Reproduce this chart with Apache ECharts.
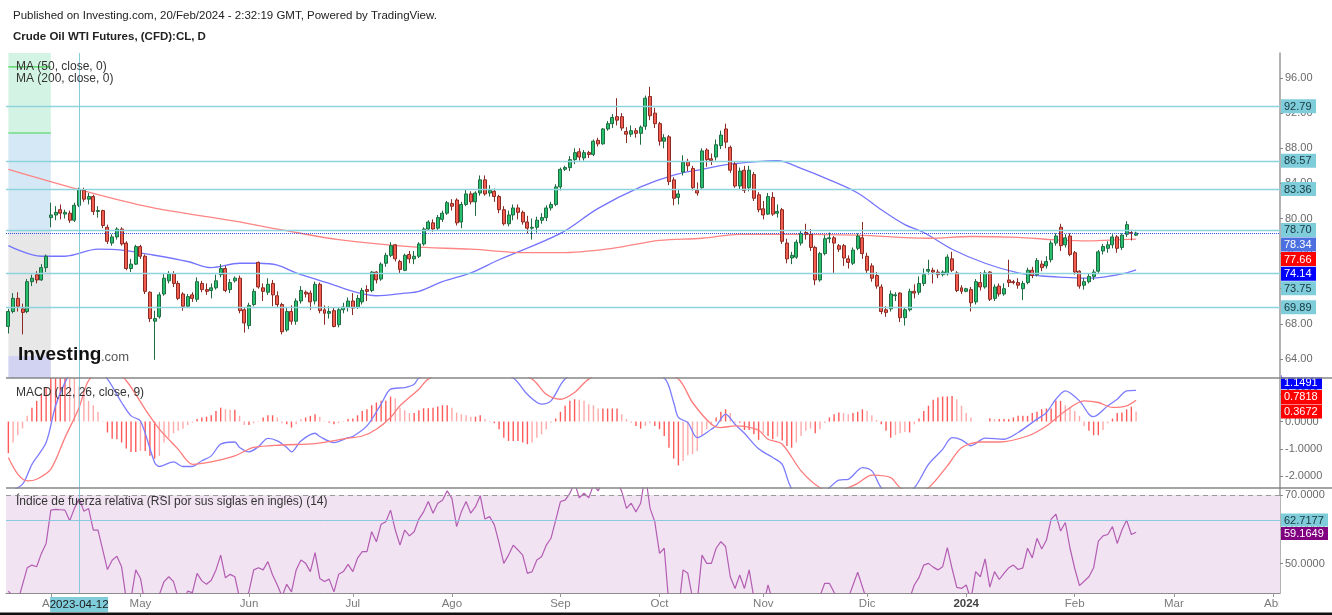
<!DOCTYPE html>
<html><head><meta charset="utf-8">
<script src="https://cdn.jsdelivr.net/npm/echarts@6/dist/echarts.min.js"></script>
<style>html,body{margin:0;padding:0;background:#fff;}#c{width:1332px;height:615px;}</style>
</head><body><div id="c"></div>
<script>
// ---------- categories ----------
const firstDay = [2023, 2, 21];      // 2023-03-21
const lastDay = [2024, 3, 2];        // 2024-04-02 (axis runs into the future)
const closedDays = ['2023-04-07'];
const monthNames = ['Ene','Feb','Mar','Abr','May','Jun','Jul','Ago','Sep','Oct','Nov','Dic'];
const crossDate = '2023-04-12';

// ---------- candles [open, close, low, high] ----------
const ohlc = [
[67.7,69.4,66.9,69.7],[69.4,70.9,69.2,71.5],[70.9,70.0,69.4,71.6],[69.7,69.3,66.8,70.3],[69.4,72.8,69.2,73.1],
[72.8,73.2,72.3,73.6],[73.6,73.0,72.6,74.0],[73.0,74.4,72.9,74.8],[74.4,75.7,73.9,75.9],[80.1,80.4,79.0,81.8],
[80.4,80.7,79.8,81.4],[81.0,80.6,79.9,81.6],[80.5,80.7,80.0,81.0],[80.6,79.8,79.5,80.9],[79.8,81.5,79.6,81.8],
[81.5,83.3,81.3,83.5],[83.2,82.2,81.9,83.5],[82.2,82.5,81.6,82.9],[82.5,80.8,80.4,82.7],[80.8,80.9,80.1,81.4],
[80.9,79.2,78.9,81.0],[79.0,77.4,77.1,79.3],[77.2,77.9,76.9,78.2],[77.9,78.8,77.6,79.0],[78.8,77.1,76.9,79.0],
[77.2,74.3,74.1,77.4],[74.3,74.8,73.9,75.4],[74.8,76.8,74.7,77.0],[76.8,75.7,75.4,77.0],[75.7,71.7,71.4,75.9],
[71.6,68.6,68.2,71.7],[68.3,68.6,63.9,69.5],[68.8,71.3,68.6,71.6],[71.4,73.2,71.2,73.7],[72.9,73.7,72.6,74.0],
[73.7,72.6,72.2,74.0],[72.6,70.9,70.7,72.9],[71.4,70.0,69.5,71.6],[70.0,71.1,69.8,71.4],[71.3,70.9,70.5,71.6],
[70.8,72.8,70.5,73.3],[72.6,71.9,71.6,72.9],[71.9,71.7,71.3,72.6],[71.8,72.1,70.9,72.6],[72.1,72.9,71.9,73.6],
[73.6,74.3,73.3,74.8],[74.3,71.8,71.6,74.6],[71.9,72.7,71.5,73.1],[72.9,73.2,72.7,73.4],[73.2,69.5,69.2,73.5],
[69.6,68.1,67.0,69.8],[67.8,70.1,67.4,70.4],[70.2,71.7,70.0,72.0],[75.0,72.2,72.0,75.1],[72.1,71.7,70.6,72.6],
[71.6,72.5,71.3,73.2],[72.6,71.3,70.0,73.0],[71.2,70.2,69.9,71.7],[70.2,67.1,66.8,70.4],[67.3,69.4,67.1,69.8],
[69.4,68.3,67.9,70.1],[68.3,70.6,67.9,70.9],[70.6,71.8,70.3,72.3],[71.6,71.4,71.0,71.8],[71.5,70.5,69.6,71.8],
[70.6,72.5,70.2,72.8],[72.5,69.5,69.2,72.7],[69.6,69.2,67.9,70.1],[69.2,69.4,68.6,70.0],[69.5,67.7,67.6,69.9],
[67.9,69.6,67.6,69.8],[69.6,69.9,69.2,70.4],[69.9,70.6,69.4,71.0],[70.6,69.8,69.0,71.5],[69.9,70.9,69.7,71.3],
[70.5,71.8,70.2,72.1],[71.9,71.7,70.6,72.4],[71.8,73.9,71.6,74.0],[73.9,73.0,72.6,74.0],[73.1,74.8,72.9,75.0],
[74.9,75.8,74.5,76.1],[75.8,76.9,75.6,77.3],[77.0,75.4,75.1,77.1],[75.1,74.2,73.7,75.3],[74.1,75.8,74.0,76.0],
[75.9,75.4,74.9,76.3],[75.4,75.7,74.8,76.3],[75.7,77.1,75.5,77.3],[77.1,78.8,76.9,79.0],[78.8,79.6,78.6,79.8],
[79.5,78.8,78.5,79.9],[78.9,80.1,78.6,80.4],[79.9,80.6,79.6,80.9],[80.6,81.8,80.4,82.0],[81.7,81.4,80.9,82.2],
[82.1,79.5,79.2,82.3],[79.6,81.6,78.9,81.9],[81.6,82.8,81.4,83.3],[82.8,81.9,81.6,83.1],[81.9,82.9,80.3,83.1],
[82.9,84.4,82.6,84.9],[84.4,82.8,82.6,84.9],[82.9,83.2,82.5,83.8],[83.1,82.5,81.9,83.4],[82.5,81.0,80.6,82.7],
[81.0,79.4,79.2,81.4],[79.4,80.4,79.1,80.9],[80.4,81.2,79.8,81.6],[81.2,80.7,79.9,81.6],[80.7,79.6,79.3,80.9],
[79.6,78.9,78.3,80.3],[78.9,79.0,77.6,80.0],[79.0,79.8,78.4,80.2],[79.8,80.1,79.4,80.6],[80.1,81.2,79.7,81.5],
[81.2,81.6,80.9,81.9],[81.6,83.6,81.4,83.9],[83.6,85.6,83.2,85.8],[85.6,85.8,85.4,86.0],[85.8,86.7,85.4,87.1],
[86.7,87.5,86.2,88.0],[87.6,87.0,86.6,88.0],[86.9,87.5,86.6,87.8],[87.5,87.3,86.9,87.7],[87.3,88.8,87.1,89.0],
[88.9,88.5,88.2,89.2],[88.5,90.2,88.4,90.3],[90.2,90.8,90.0,91.1],[90.8,91.5,90.3,91.9],[91.6,91.2,90.6,93.7],
[91.6,90.3,90.0,92.0],[89.9,89.6,88.6,90.4],[89.6,90.0,89.3,90.6],[90.0,89.7,89.2,90.3],[89.7,90.4,88.4,90.6],
[90.5,93.7,90.1,94.0],[93.9,91.7,91.2,95.0],[92.0,90.8,90.3,92.6],[90.8,88.8,88.3,91.0],[88.8,89.2,88.0,89.6],
[89.3,84.2,83.8,89.5],[84.4,82.3,81.5,84.7],[82.4,82.8,81.6,83.3],[85.3,86.4,84.9,87.2],[86.5,86.0,85.4,86.8],
[85.7,83.5,83.2,86.0],[83.2,82.9,82.6,84.1],[83.5,87.7,83.4,88.0],[87.8,86.7,85.9,88.0],[86.8,86.6,86.1,87.4],
[87.0,88.4,86.6,89.0],[88.3,89.5,87.9,90.0],[90.2,88.7,88.0,90.8],[88.1,85.5,85.2,88.3],[86.2,83.7,83.5,86.5],
[83.7,85.4,83.3,85.8],[85.5,83.2,82.9,86.0],[83.5,85.5,83.1,86.0],[85.0,82.3,82.0,85.3],[82.7,81.0,80.7,83.0],
[81.1,80.4,79.9,82.0],[80.5,82.5,80.4,82.9],[82.4,80.5,80.3,83.0],[80.6,80.8,80.1,81.6],[81.0,77.4,77.1,81.2],
[77.2,75.4,74.9,77.7],[75.5,75.8,74.8,76.2],[75.6,77.3,75.4,77.6],[77.2,78.3,76.9,78.6],[78.4,78.2,77.6,79.4],
[78.2,76.7,76.3,78.8],[76.7,73.0,72.4,76.9],[73.0,76.0,72.8,76.2],[76.0,77.7,75.8,78.1],[77.7,77.8,77.2,78.4],
[77.8,77.2,73.8,78.0],[76.9,76.5,76.2,77.1],[76.9,75.5,74.6,77.1],[75.4,75.0,74.3,75.8],[74.9,76.4,74.7,76.7],
[76.6,78.0,76.4,78.3],[77.8,76.0,75.4,79.6],[75.7,74.1,73.8,76.1],[74.6,73.2,72.8,74.9],[73.5,72.3,72.0,73.9],
[72.2,69.4,69.1,72.5],[69.6,69.3,68.8,70.0],[69.7,71.4,69.4,71.8],[71.2,71.3,70.6,71.6],[71.5,68.7,68.2,71.6],
[68.7,69.6,67.8,69.8],[69.6,71.7,69.4,72.0],[71.7,71.5,70.9,72.5],[71.6,72.6,71.3,73.4],[72.6,73.6,72.3,74.3],
[74.0,74.2,73.6,75.3],[74.1,73.9,72.6,74.4],[73.9,73.6,73.2,74.2],[73.6,73.9,73.4,74.1],[73.7,75.6,73.5,75.9],
[75.4,74.1,73.9,76.2],[73.8,71.8,71.6,74.0],[72.1,71.7,71.4,72.4],[71.7,72.0,71.6,72.1],[71.9,70.4,69.4,72.2],
[70.5,72.8,70.2,73.1],[72.7,72.2,71.8,73.9],[72.2,73.8,72.0,74.1],[73.9,70.8,70.6,74.0],[70.9,72.2,70.6,72.5],
[72.3,71.4,71.1,72.6],[71.4,72.0,71.2,72.6],[73.0,72.7,72.2,75.3],[72.8,72.7,72.5,73.0],[72.7,72.4,72.0,73.2],
[72.0,72.6,70.7,72.9],[72.7,74.1,72.5,74.4],[74.1,73.5,73.2,74.5],[73.6,75.2,73.4,75.5],[74.8,74.4,74.0,75.2],
[74.6,75.1,74.3,75.7],[75.3,77.2,75.0,77.5],[77.2,78.0,76.9,78.3],[79.0,76.9,76.3,79.4],[77.0,77.8,76.7,78.2],
[78.0,75.9,75.7,78.3],[76.1,73.9,73.6,76.3],[74.0,72.3,72.0,74.1],[72.4,72.8,71.9,73.2],[72.8,73.4,72.6,73.7],
[73.4,73.9,73.0,74.2],[74.0,76.2,73.8,76.4],[76.3,76.8,75.9,77.1],[76.6,77.0,76.1,77.4],[77.0,77.9,76.6,78.2],
[77.9,76.6,76.1,78.1],[76.7,78.1,76.4,78.3],[78.2,79.3,77.9,79.7],[78.4,78.3,77.5,78.7],[78.1,78.34,78.0,78.5]
];

// ---------- moving averages, read as [barIndex, value] ----------
const ma50Pts = [[0,76.9],[7,75.7],[12,75.7],[19,76.5],[24,76.4],[30,75.9],[38,75.1],[43,74.4],[49,74.9],[53,74.9],[57,74.7],[61,73.8],[68,72.6],[74,71.55],[78,71.2],[84,71.5],[87,71.7],[92,72.8],[98,73.8],[104,75.3],[117,78.3],[125,81.15],[134,83.6],[141,84.95],[147,85.6],[153,86.2],[163,86.6],[168,85.7],[174,84.4],[180,82.9],[185,81.0],[190,79.3],[194,78.4],[200,76.5],[207,74.9],[214,73.8],[219,73.45],[224,73.3],[229,73.2],[233,73.4],[237,73.8],[239,74.14]];
const ma200Pts = [[0,85.6],[15,83.3],[30,81.3],[48,79.7],[58,78.7],[70,77.6],[85,76.8],[98,76.5],[110,76.1],[117,76.1],[128,76.6],[138,77.5],[147,77.75],[155,78.2],[166,78.2],[180,78.1],[195,77.75],[204,77.95],[214,77.85],[221,77.6],[229,77.45],[236,77.6],[239,77.66]];

// ---------- MACD (12,26,9) ----------
const macdPts = [[0,-2.6],[3,-2.3],[5,-1.57],[8,-0.77],[10,0.58],[12,1.43],[14,2.0],[17,2.25],[21,1.56],[24,0.70],[26,0.21],[28,0.02],[31,-1.50],[32,-1.65],[35,-1.48],[37,-1.65],[39,-1.65],[41,-1.44],[43,-1.26],[45,-0.83],[48,-0.75],[49,-0.95],[51,-1.11],[53,-0.92],[55,-0.62],[57,-0.71],[59,-0.95],[60,-1.11],[62,-0.71],[65,-0.43],[66,-0.55],[69,-0.77],[72,-0.59],[73,-0.55],[76,-0.16],[79,0.64],[81,1.19],[84,1.25],[86,1.37],[87,1.6],[97,2.4],[107,1.6],[110,1.0],[113,0.64],[115,0.76],[118,1.56],[128,2.7],[139,1.6],[141,0.70],[142,0.15],[144,-0.04],[146,-0.59],[149,-0.28],[150,-0.16],[152,0.27],[154,-0.10],[156,-0.43],[159,-1.0],[162,-1.32],[164,-1.57],[166,-2.46],[170,-3.0],[174,-2.43],[176,-2.15],[178,-2.12],[181,-1.69],[183,-1.81],[185,-2.43],[188,-2.9],[192,-2.43],[195,-1.57],[198,-1.02],[200,-0.59],[202,-0.67],[204,-0.89],[207,-0.61],[211,-0.65],[214,-0.40],[218,0.09],[220,0.33],[222,0.82],[224,1.13],[227,0.76],[229,0.27],[230,0.18],[233,0.58],[235,0.82],[237,1.13],[239,1.1491]];
const signalPts = [[0,-1.32],[2,-1.93],[4,-2.18],[6,-2.12],[9,-1.75],[12,-0.59],[15,0.52],[17,1.50],[21,2.1],[25,1.50],[29,0.45],[32,-0.28],[36,-1.02],[39,-1.57],[43,-1.48],[48,-1.26],[52,-0.95],[58,-0.86],[65,-0.81],[72,-0.61],[75,-0.53],[78,-0.28],[81,0.15],[83,0.58],[87,1.19],[89,1.56],[100,2.4],[111,1.56],[114,1.0],[117,0.82],[120,1.07],[123,1.56],[133,2.4],[142,1.56],[145,0.70],[149,-0.10],[151,-0.22],[154,-0.16],[156,-0.18],[159,-0.32],[161,-0.65],[164,-0.83],[168,-1.81],[172,-2.43],[175,-2.6],[178,-2.43],[180,-2.27],[183,-1.97],[187,-2.06],[189,-2.43],[192,-2.6],[195,-2.43],[199,-1.63],[202,-0.96],[206,-0.75],[210,-0.75],[216,-0.53],[220,-0.16],[224,0.39],[228,0.76],[231,0.70],[234,0.52],[237,0.58],[239,0.7818]];
const histVals = [
-1.16,-0.77,-0.5,-0.25,0.21,0.51,0.76,1.0,1.25,1.6,1.8,1.9,1.9,1.8,1.65,1.31,1.07,0.76,0.60,0.36,
0.02,-0.40,-0.63,-0.65,-0.77,-0.99,-1.12,-1.12,-1.08,-1.08,-1.26,-1.36,-1.26,-0.77,-0.59,-0.43,-0.34,-0.26,-0.13,-0.04,
0.09,0.15,0.18,0.23,0.39,0.51,0.45,0.43,0.43,0.21,-0.13,-0.13,-0.06,0.02,0.15,0.23,0.23,0.15,-0.06,-0.10,
-0.22,-0.10,0.09,0.15,0.21,0.27,0.18,0.02,-0.04,-0.10,-0.06,0.02,0.09,0.11,0.23,0.39,0.45,0.60,0.70,
0.76,0.76,0.92,0.85,0.51,0.42,0.31,0.31,0.42,0.49,0.49,0.51,0.55,0.60,0.60,0.51,0.33,0.27,0.23,0.18,
0.18,0.23,0.09,0.02,-0.06,-0.28,-0.59,-0.71,-0.71,-0.71,-0.77,-0.83,-0.77,-0.59,-0.47,-0.28,-0.04,0.11,0.36,0.58,
0.76,0.82,0.80,0.76,0.64,0.60,0.48,0.48,0.48,0.48,0.48,0.27,0.09,-0.04,-0.16,-0.26,-0.16,-0.06,-0.16,-0.28,
-0.53,-0.96,-1.36,-1.61,-1.45,-1.24,-1.20,-1.08,-0.53,-0.28,-0.13,0.15,0.36,0.45,0.31,-0.04,-0.04,-0.31,-0.31,-0.47,
-0.67,-0.43,-0.53,-0.65,-0.55,-0.70,-0.90,-0.96,-0.77,-0.53,-0.34,-0.26,-0.43,-0.28,-0.05,0.15,0.27,0.33,0.31,0.27,
0.31,0.36,0.45,0.39,0.23,0.06,-0.10,-0.34,-0.59,-0.50,-0.43,-0.38,-0.40,-0.10,0.11,0.39,0.58,0.80,0.88,0.92,
0.92,0.94,0.82,0.58,0.31,0.15,0.0,0.0,0.0,0.12,0.09,0.09,0.09,0.09,0.15,0.21,0.21,0.21,0.31,0.36,
0.45,0.48,0.48,0.76,0.76,0.60,0.51,0.39,0.21,-0.16,-0.34,-0.50,-0.50,-0.31,-0.06,0.11,0.31,0.33,0.45,0.55,0.3672
];

// ---------- RSI (14) ----------
const rsiPts = [[0,42.0],[2,39.0],[4,48.8],[5,49.6],[6,49.1],[7,53.0],[8,55.9],[9,65.6],[10,65.8],[11,65.7],[12,65.6],[13,62.5],[14,66.1],[15,69.0],[16,65.3],[17,66.1],[18,59.8],[19,59.8],[21,48.3],[22,51.0],[23,52.2],[24,49.1],[25,39.5],[26,40.0],[27,48.2],[28,45.7],[29,38.0],[30,33.0],[31,35.0],[32,41.0],[33,44.8],[34,46.2],[35,44.8],[36,40.0],[37,38.5],[38,42.0],[39,41.6],[40,47.2],[41,45.0],[42,44.0],[43,45.2],[44,48.2],[45,52.5],[46,45.9],[47,46.9],[48,46.2],[49,40.0],[50,38.5],[51,42.0],[52,48.2],[53,48.8],[54,48.2],[55,50.6],[56,46.7],[57,43.8],[58,40.5],[59,44.0],[60,41.8],[61,48.2],[62,51.1],[63,50.1],[64,47.7],[65,53.2],[66,45.7],[67,44.8],[68,45.5],[69,41.8],[70,46.9],[71,47.7],[72,49.8],[73,47.7],[74,51.6],[75,53.5],[76,53.5],[77,59.3],[78,56.4],[79,61.5],[80,62.2],[81,65.6],[82,59.8],[83,55.4],[84,59.8],[85,58.1],[86,59.3],[87,63.0],[88,65.1],[89,68.1],[90,64.7],[91,67.6],[92,68.5],[93,71.2],[94,69.0],[95,60.8],[96,65.1],[97,68.1],[98,64.7],[99,66.6],[100,69.8],[101,63.0],[102,63.7],[103,61.3],[104,56.0],[105,50.1],[106,52.5],[107,55.4],[108,54.0],[109,52.5],[110,47.2],[111,47.7],[112,51.1],[113,52.0],[114,55.4],[115,57.4],[116,62.7],[117,68.1],[118,68.5],[119,70.5],[120,73.5],[121,69.2],[122,70.5],[123,69.2],[124,72.9],[125,71.2],[126,74.0],[127,75.0],[128,76.0],[129,74.0],[130,71.0],[131,66.1],[132,67.6],[133,65.1],[134,67.6],[135,76.0],[136,66.1],[137,62.2],[138,53.0],[139,54.5],[140,38.0],[141,33.0],[142,36.0],[143,48.2],[144,47.2],[145,40.0],[146,39.0],[147,52.5],[148,50.1],[149,50.1],[150,54.5],[151,56.4],[152,55.0],[153,46.2],[154,42.8],[155,46.7],[156,42.8],[157,48.2],[158,40.0],[159,37.0],[160,38.0],[161,43.8],[162,39.0],[164,34.0],[167,37.0],[170,33.0],[173,44.3],[174,44.3],[176,39.0],[178,40.0],[180,47.5],[182,39.0],[185,34.0],[189,32.0],[192,43.8],[193,46.0],[194,49.6],[195,50.1],[196,49.0],[197,48.2],[198,49.1],[199,54.7],[200,48.6],[201,43.1],[202,42.8],[203,43.8],[204,39.5],[205,47.7],[206,46.2],[207,51.4],[208,43.2],[209,47.7],[210,45.4],[211,47.2],[212,48.8],[213,49.6],[214,48.3],[215,48.8],[216,54.5],[217,51.7],[218,57.4],[219,54.3],[220,56.9],[221,63.0],[222,64.4],[223,59.5],[224,62.0],[225,54.5],[226,48.6],[227,43.6],[229,46.2],[230,48.8],[231,56.6],[232,58.1],[233,58.5],[234,60.8],[235,55.9],[236,59.8],[237,62.7],[238,58.5],[239,59.1649]];

// ---------- drawings / levels ----------
const priceLevels = [92.79, 86.57, 83.36, 78.70, 73.75, 69.89];
const lastPrice = 78.34;
const ma50Last = 74.14, ma200Last = 77.66;
const boxLevels = [98.85, 89.74, 78.46, 64.34, 61.83];   // left shaded box bands
const boxLineA = [[0, 97.26], [9, 97.26]];
const boxLineB = [[0, 89.74], [9, 89.74]];
const rsiLevel = 62.7177, rsiLast = 59.1649, rsiUpper = 70;
const macdLast = 1.1491, signalLast = 0.7818, histLast = 0.3672;
const mainTicks = [64, 68, 72, 76, 80, 84, 88, 92, 96];
const macdTicks = [-2, -1, 0, 1];
const rsiTicks = [50, 60, 70];
const mainRange = [61.83, 98.85], macdRange = [-2.44, 1.6], rsiRange = [41.47, 72.04];

// ---------- build ----------
const dates = [];
{
  const d = new Date(Date.UTC(firstDay[0], firstDay[1], firstDay[2]));
  const end = Date.UTC(lastDay[0], lastDay[1], lastDay[2]);
  while (d.getTime() <= end) {
    const s = d.toISOString().slice(0, 10);
    const wd = d.getUTCDay();
    if (wd !== 0 && wd !== 6 && closedDays.indexOf(s) < 0) dates.push(s);
    d.setUTCDate(d.getUTCDate() + 1);
  }
}
const isMonthStart = dates.map((s, i) => i > 0 && s.slice(0, 7) !== dates[i - 1].slice(0, 7));
const FONT = '"Liberation Sans", Arial, sans-serif';

const histData = histVals.map((v, i) => {
  const p = i > 0 ? histVals[i - 1] : 0;
  return { value: v, itemStyle: { color: Math.abs(v) >= Math.abs(p) ? '#ff5a5a' : '#ffaaaa' } };
});

const chart = echarts.init(document.getElementById('c'), null, { renderer: 'canvas' });

function xAx(k, show) {
  return {
    type: 'category', data: dates, gridIndex: k, boundaryGap: true,
    axisLine: { show: show, lineStyle: { color: '#8c8c8c', width: 1 } },
    axisTick: { show: show, length: 4, lineStyle: { color: '#999' }, interval: (i) => isMonthStart[i], alignWithLabel: true },
    axisLabel: {
      show: show, interval: (i) => isMonthStart[i], margin: 5, fontSize: 11.5, color: '#7a7a7a', fontFamily: FONT,
      formatter: (val) => {
        const m = +val.slice(5, 7) - 1;
        if (m === 0) return '{b|' + val.slice(0, 4) + '}';
        return monthNames[m];
      },
      rich: { b: { fontWeight: 'bold', color: '#444', fontSize: 11.5, fontFamily: FONT } }
    },
    splitLine: { show: false }
  };
}
function yAx(k, range, ticks, dec) {
  return {
    type: 'value', gridIndex: k, position: 'right', min: range[0], max: range[1], scale: true,
    axisLine: { show: true, lineStyle: { color: '#9a9a9a', width: 1.5 } },
    axisTick: { show: true, length: 3, lineStyle: { color: '#888' }, customValues: ticks },
    axisLabel: { show: true, customValues: ticks, margin: 5, fontSize: 11, color: '#6a6a6a', fontFamily: FONT,
      formatter: (v) => Number(v).toFixed(dec) },
    splitLine: { show: false }
  };
}

const cyan = '#8fd3df';
const option = {
  animation: false,
  backgroundColor: '#ffffff',
  grid: [
    { left: 6, right: 52, top: 53, height: 325 },
    { left: 6, right: 52, top: 378, height: 110 },
    { left: 6, right: 52, top: 488, height: 105 }
  ],
  xAxis: [xAx(0, false), xAx(1, false), xAx(2, true)],
  yAxis: [yAx(0, mainRange, mainTicks, 2), yAx(1, macdRange, macdTicks, 4), yAx(2, rsiRange, rsiTicks, 4)],
  series: [
    {
      type: 'candlestick', xAxisIndex: 0, yAxisIndex: 0, data: ohlc, barWidth: '74%', z: 4,
      itemStyle: { color: '#27bf6d', color0: '#f25d4f', borderColor: '#1f6b42', borderColor0: '#8a2a22', borderWidth: 1 },
      markArea: {
        silent: true,
        data: [
          [{ xAxis: dates[0], yAxis: boxLevels[1], itemStyle: { color: '#d3f4e5' } }, { xAxis: dates[9], yAxis: boxLevels[0] }],
          [{ xAxis: dates[0], yAxis: boxLevels[2], itemStyle: { color: '#d4e9f5' } }, { xAxis: dates[9], yAxis: boxLevels[1] }],
          [{ xAxis: dates[0], yAxis: boxLevels[3], itemStyle: { color: '#e7e7e7' } }, { xAxis: dates[9], yAxis: boxLevels[2] }],
          [{ xAxis: dates[0], yAxis: boxLevels[4], itemStyle: { color: '#d2d2f2' } }, { xAxis: dates[9], yAxis: boxLevels[3] }]
        ]
      },
      markLine: {
        silent: true, symbol: ['none', 'none'], label: { show: false },
        data: priceLevels.map(v => ({ yAxis: v, lineStyle: { color: cyan, width: 1.3, type: 'solid' } }))
          .concat([
            { yAxis: lastPrice, lineStyle: { color: '#2e55e8', width: 1, type: 'dotted' } },
            { xAxis: crossDate, lineStyle: { color: '#86cbdc', width: 1, type: 'solid' } }
          ])
      }
    },
    { type: 'line', xAxisIndex: 0, yAxisIndex: 0, data: boxLineA, showSymbol: false, silent: true,
      lineStyle: { color: '#45d150', width: 1.2 }, z: 2 },
    { type: 'line', xAxisIndex: 0, yAxisIndex: 0, data: boxLineB, showSymbol: false, silent: true,
      lineStyle: { color: '#45d150', width: 1.2 }, z: 2 },
    { type: 'line', xAxisIndex: 0, yAxisIndex: 0, data: ma50Pts, showSymbol: false, smooth: 0.35,
      lineStyle: { color: '#7474ff', width: 1.3 }, z: 3 },
    { type: 'line', xAxisIndex: 0, yAxisIndex: 0, data: ma200Pts, showSymbol: false, smooth: 0.35,
      lineStyle: { color: '#ff8484', width: 1.3 }, z: 3 },
    {
      type: 'bar', xAxisIndex: 1, yAxisIndex: 1, data: histData, barWidth: 1.4,
      markLine: { silent: true, symbol: ['none', 'none'], label: { show: false },
        data: [{ xAxis: crossDate, lineStyle: { color: '#86cbdc', width: 1, type: 'solid' } }] }
    },
    { type: 'line', xAxisIndex: 1, yAxisIndex: 1, data: macdPts, showSymbol: false, smooth: 0.3,
      lineStyle: { color: '#7b7bff', width: 1.3 } },
    { type: 'line', xAxisIndex: 1, yAxisIndex: 1, data: signalPts, showSymbol: false, smooth: 0.3,
      lineStyle: { color: '#ff7b7b', width: 1.3 } },
    {
      type: 'line', xAxisIndex: 2, yAxisIndex: 2, data: rsiPts, showSymbol: false,
      lineStyle: { color: '#b35db3', width: 1.2 },
      markArea: { silent: true, data: [[{ yAxis: rsiRange[0], itemStyle: { color: '#f1e3f1' } }, { yAxis: rsiUpper }]] },
      markLine: { silent: true, symbol: ['none', 'none'], label: { show: false },
        data: [
          { yAxis: rsiUpper, lineStyle: { color: '#9a9a9a', width: 1.2, type: [5, 4] } },
          { yAxis: rsiLevel, lineStyle: { color: '#8cc9e0', width: 1, type: 'solid' } },
          { xAxis: crossDate, lineStyle: { color: '#86cbdc', width: 1, type: 'solid' } }
        ] }
    }
  ]
};
chart.setOption(option);

// ---------- texts, separators and axis tags ----------
function txt(t, x, y, font, fill) {
  return { type: 'text', z: 50, silent: true,
    style: { text: t, x: x, y: y, font: font, fill: fill, textVerticalAlign: 'middle', verticalAlign: 'middle' } };
}
const statics = [
  txt('Published on Investing.com, 20/Feb/2024 - 2:32:19 GMT, Powered by TradingView.', 13, 16, '11.5px ' + FONT, '#222'),
  txt('Crude Oil WTI Futures, (CFD):CL, D', 13, 37, 'bold 11.5px ' + FONT, '#222'),
  txt('MA (50, close, 0)', 16, 67, '12px ' + FONT, '#333'),
  txt('MA (200, close, 0)', 16, 79, '12px ' + FONT, '#333'),
  txt('MACD (12, 26, close, 9)', 16, 393, '12px ' + FONT, '#333'),
  txt('Índice de fuerza relativa (RSI por sus siglas en inglés) (14)', 16, 502, '12px ' + FONT, '#333'),
  { type: 'text', z: 50, silent: true, style: { text: 'Investing', x: 18, y: 364, font: 'bold 19px ' + FONT, fill: '#111', textVerticalAlign: 'bottom', verticalAlign: 'bottom' } },
  { type: 'text', z: 50, silent: true, style: { text: '.com', x: 101, y: 364, font: '13px ' + FONT, fill: '#555', textVerticalAlign: 'bottom', verticalAlign: 'bottom' } },
  { type: 'rect', z: 60, silent: true, shape: { x: 1281.5, y: 366, width: 51, height: 11.6 }, style: { fill: '#fff' } },
  { type: 'line', z: 61, silent: true, shape: { x1: 6, y1: 378, x2: 1332, y2: 378 }, style: { stroke: '#868686', lineWidth: 1.5 } },
  { type: 'line', z: 61, silent: true, shape: { x1: 6, y1: 488, x2: 1332, y2: 488 }, style: { stroke: '#868686', lineWidth: 1.5 } },
  { type: 'rect', z: 60, silent: true, shape: { x: 1278.5, y: 594.5, width: 54, height: 18 }, style: { fill: '#fff' } },
  { type: 'rect', z: 62, silent: true, shape: { x: 0, y: 612.5, width: 1332, height: 3 }, style: { fill: '#111' } }
];

function placeTags(defs, axisIndex, dir, spacing, h, x, w) {
  const items = defs.map(d => Object.assign({}, d, { y: chart.convertToPixel({ yAxisIndex: axisIndex }, d.v) }));
  items.sort((a, b) => a.y - b.y);
  if (dir === 'down') {
    for (let k = 1; k < items.length; k++) if (items[k].y < items[k - 1].y + spacing) items[k].y = items[k - 1].y + spacing;
  } else {
    for (let k = items.length - 2; k >= 0; k--) if (items[k].y > items[k + 1].y - spacing) items[k].y = items[k + 1].y - spacing;
  }
  const out = [];
  items.forEach(it => {
    out.push({ type: 'rect', z: 55, silent: true, shape: { x: x, y: it.y - h / 2, width: w, height: h }, style: { fill: it.bg } });
    out.push({ type: 'text', z: 56, silent: true, style: { text: it.text, x: x + 3, y: it.y + 0.5, font: '11px ' + FONT, fill: it.fg,
      textVerticalAlign: 'middle', verticalAlign: 'middle' } });
  });
  return out;
}
const dark = '#17363c', cyanBg = '#7fcddb';
const mainTags = priceLevels.map(v => ({ v: v, text: v.toFixed(2), bg: cyanBg, fg: dark }))
  .concat([
    { v: lastPrice, text: lastPrice.toFixed(2), bg: '#4d70e0', fg: '#fff' },
    { v: ma200Last, text: ma200Last.toFixed(2), bg: '#ff0000', fg: '#fff' },
    { v: ma50Last, text: ma50Last.toFixed(2), bg: '#0000ff', fg: '#fff' }
  ]);
const macdTags = [
  { v: macdLast, text: macdLast.toFixed(4), bg: '#0000ff', fg: '#fff' },
  { v: signalLast, text: signalLast.toFixed(4), bg: '#ff0000', fg: '#fff' },
  { v: histLast, text: histLast.toFixed(4), bg: '#ff0000', fg: '#fff' }
];
const rsiTags = [
  { v: rsiLevel, text: rsiLevel.toFixed(4), bg: cyanBg, fg: dark },
  { v: rsiLast, text: rsiLast.toFixed(4), bg: '#800080', fg: '#fff' }
];
const crossX = chart.convertToPixel({ xAxisIndex: 2 }, crossDate);
const crossTag = [
  { type: 'rect', z: 57, silent: true, shape: { x: crossX - 29, y: 597, width: 58, height: 15 }, style: { fill: cyanBg } },
  { type: 'text', z: 58, silent: true, style: { text: crossDate, x: crossX, y: 605, font: '11.5px ' + FONT, fill: '#1a1a1a',
    textAlign: 'center', align: 'center', textVerticalAlign: 'middle', verticalAlign: 'middle' } }
];
const tags = []
  .concat(placeTags(mainTags, 0, 'down', 14.6, 14, 1281, 35))
  .concat(placeTags(macdTags, 1, 'up', 14.6, 14, 1281, 41))
  .concat(placeTags(rsiTags, 2, 'down', 13.5, 13, 1281, 47));
chart.setOption({ graphic: { elements: statics.concat(tags).concat(crossTag) } });
</script>
</body></html>
